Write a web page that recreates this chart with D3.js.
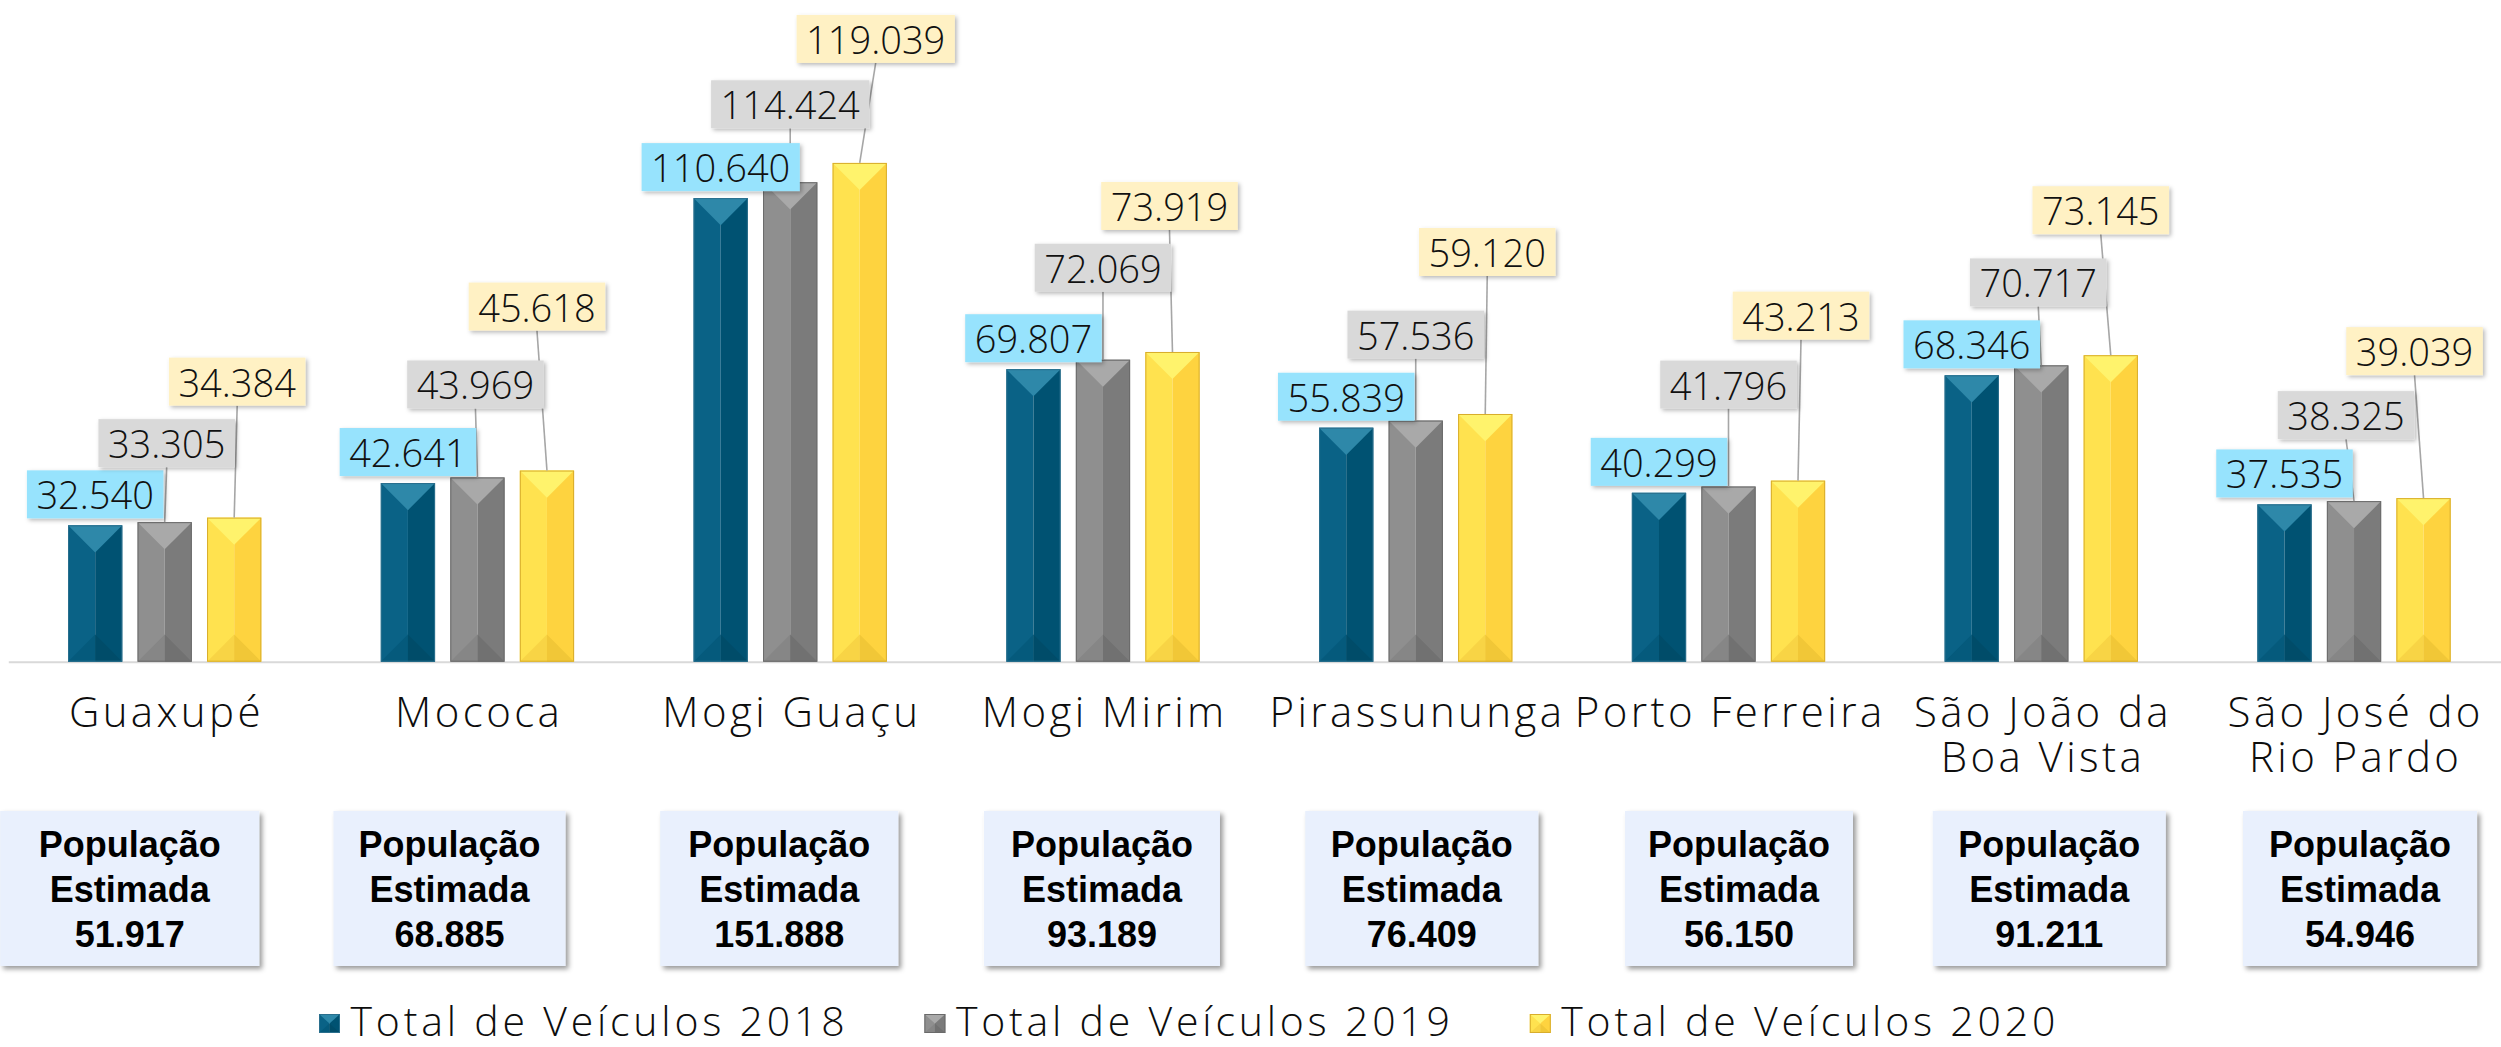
<!DOCTYPE html>
<html>
<head>
<meta charset="utf-8">
<script src="https://cdn.jsdelivr.net/npm/d3@7"></script>
<style>
  html, body { margin: 0; padding: 0; background: #ffffff; }
  svg { display: block; }
</style>
</head>
<body>
<svg id="chart" width="2501" height="1047"></svg>
<script>
// ---- data ----
const municipios = ["Guaxupé", "Mococa", "Mogi Guaçu", "Mogi Mirim", "Pirassununga", "Porto Ferreira", "São João da Boa Vista", "São José do Rio Pardo"];
const rotulos = [["Guaxupé"], ["Mococa"], ["Mogi Guaçu"], ["Mogi Mirim"], ["Pirassununga"], ["Porto Ferreira"], ["São João da", "Boa Vista"], ["São José do", "Rio Pardo"]];
const series = ["Total de Veículos 2018", "Total de Veículos 2019", "Total de Veículos 2020"];
const veiculos2018 = [32540, 42641, 110640, 69807, 55839, 40299, 68346, 37535];
const veiculos2019 = [33305, 43969, 114424, 72069, 57536, 41796, 70717, 38325];
const veiculos2020 = [34384, 45618, 119039, 73919, 59120, 43213, 73145, 39039];
const populacao = [51917, 68885, 151888, 93189, 76409, 56150, 91211, 54946];

// ---- layout (label placement) ----
// space between a value label and the top of its bar, per municipality and series
const folgaRotulo = [[7, 55, 112], [7, 69, 140], [7, 54, 100], [7, 68, 122], [7, 62, 138], [7, 78, 141], [7, 59, 121], [7, 62, 123]];
// horizontal shift of each value label from its bar centre
const desvioRotulo = [[0, 2, 3], [0, -2, -10], [0, 0, 16], [0, 0, -3], [0, 0, 2], [0, 0, 3], [0, -3, -10], [0, -8, -9]];
// population boxes: shift from the category centre and width
const desvioPop = [-35, -28, -11, -1, 6, 10.5, 8, 6];
const larguraPop = [259, 232, 238, 236, 233, 228, 233, 234];

const valores = [veiculos2018, veiculos2019, veiculos2020];

const ptBR = d3.formatLocale({ decimal: ",", thousands: ".", grouping: [3], currency: ["R$", ""] });
const fmt = ptBR.format(",d");

const FONTE = "'Open Sans', 'DejaVu Sans', sans-serif";
const FONTE_POP = "'Liberation Sans', Arial, sans-serif";

const paletas = [
  { left: "#0a6286", right: "#005272", top: "#2e88a9", botL: "#055a7c", botR: "#004c69", edge: "#2a6f8d", box: "#97e3fd" },
  { left: "#8f8f8f", right: "#7b7b7b", top: "#a9a9a9", botL: "#868686", botR: "#717171", edge: "#6a6a6a", box: "#d9d9d9" },
  { left: "#ffe24f", right: "#fed33f", top: "#fff36c", botL: "#f8d445", botR: "#f1c737", edge: "#d8ad2c", box: "#fff1c4" }
];

const svg = d3.select("#chart");

const defs = svg.append("defs");
const sh = defs.append("filter").attr("id", "sombraRotulo")
  .attr("x", "-10%").attr("y", "-20%").attr("width", "130%").attr("height", "160%");
sh.append("feDropShadow").attr("dx", 2).attr("dy", 2).attr("stdDeviation", 2)
  .attr("flood-color", "#000").attr("flood-opacity", 0.28);
const sp = defs.append("filter").attr("id", "sombraPop")
  .attr("x", "-10%").attr("y", "-10%").attr("width", "130%").attr("height", "130%");
sp.append("feDropShadow").attr("dx", 3).attr("dy", 3).attr("stdDeviation", 2.5)
  .attr("flood-color", "#000").attr("flood-opacity", 0.4);

// ---- scales ----
const x0 = d3.scaleBand().domain(municipios).range([8.3, 2510.4]).paddingInner(0).paddingOuter(0);
const larguraGrupo = 193.3;
const x1 = d3.scaleBand().domain(series).range([0, larguraGrupo]).paddingInner(0.219).paddingOuter(0);
const y = d3.scaleLinear().domain([0, 140000]).range([661.7, 75.1]);

const centroCat = m => x0(m) + x0.bandwidth() / 2;
const xBarra = (m, s) => x0(m) + (x0.bandwidth() - larguraGrupo) / 2 + x1(s);

// ---- baseline axis ----
const eixo = svg.append("g").attr("transform", `translate(0,${y(0)})`)
  .call(d3.axisBottom(x0).tickSize(0).tickFormat(""));
eixo.select(".domain").attr("stroke", "#d9d9d9").attr("stroke-width", 2);

// ---- bevelled column ----
function coluna(g, x, yy, w, h, p) {
  const cx = x + w / 2, d = Math.min(w / 2, h / 2);
  g.append("rect").attr("x", x).attr("y", yy).attr("width", w / 2).attr("height", h).attr("fill", p.left);
  g.append("rect").attr("x", cx).attr("y", yy).attr("width", w / 2).attr("height", h).attr("fill", p.right);
  g.append("path").attr("d", `M${x},${yy}L${x + w},${yy}L${cx},${yy + d}Z`).attr("fill", p.top);
  g.append("path").attr("d", `M${x},${yy + h}L${cx},${yy + h - d}L${cx},${yy + h}Z`).attr("fill", p.botL);
  g.append("path").attr("d", `M${cx},${yy + h}L${cx},${yy + h - d}L${x + w},${yy + h}Z`).attr("fill", p.botR);
  g.append("rect").attr("x", x + 0.5).attr("y", yy + 0.5).attr("width", w - 1).attr("height", h - 1)
    .attr("fill", "none").attr("stroke", p.edge).attr("stroke-width", 1);
}

// ---- bars ----
const gBarras = svg.append("g");
municipios.forEach((m, i) => {
  series.forEach((s, k) => {
    const v = valores[k][i];
    const g = gBarras.append("g");
    coluna(g, xBarra(m, s), y(v), x1.bandwidth(), y(0) - y(v), paletas[k]);
  });
});

// ---- value labels ----
const gLinhas = svg.append("g");
const gRotulos = svg.append("g");
const ALT_CAIXA = 48;
municipios.forEach((m, i) => {
  series.forEach((s, k) => {
    const v = valores[k][i];
    const bx = xBarra(m, s) + x1.bandwidth() / 2;
    const topo = y(v);
    const cx = bx + desvioRotulo[i][k];
    const fundo = topo - folgaRotulo[i][k];
    const g = gRotulos.append("g");
    const t = g.append("text")
      .attr("x", cx).attr("y", fundo - ALT_CAIXA / 2)
      .attr("text-anchor", "middle").attr("dominant-baseline", "central")
      .attr("font-family", FONTE).attr("font-weight", 300).attr("font-size", 38)
      .attr("fill", "#111").text(fmt(v));
    const w = t.node().getComputedTextLength() + 19;
    g.insert("rect", "text")
      .attr("x", cx - w / 2).attr("y", fundo - ALT_CAIXA).attr("width", w).attr("height", ALT_CAIXA)
      .attr("fill", paletas[k].box).attr("filter", "url(#sombraRotulo)");
    if (folgaRotulo[i][k] > 20) {
      gLinhas.append("line")
        .attr("x1", cx).attr("y1", fundo).attr("x2", bx).attr("y2", topo)
        .attr("stroke", "#a6a6a6").attr("stroke-width", 1.6);
    }
  });
});

// ---- category labels (one text element per line) ----
const gCat = svg.append("g");
municipios.forEach((m, i) => {
  rotulos[i].forEach((linha, j) => {
    gCat.append("text")
      .attr("x", centroCat(m) + 1.7).attr("y", 727 + j * 45)
      .attr("text-anchor", "middle")
      .attr("font-family", FONTE).attr("font-weight", 300).attr("font-size", 42)
      .attr("letter-spacing", 3.4).attr("fill", "#0d0d0d")
      .text(linha);
  });
});

// ---- population boxes ----
const gPop = svg.append("g");
municipios.forEach((m, i) => {
  const cx = centroCat(m) + desvioPop[i];
  const w = larguraPop[i];
  const g = gPop.append("g");
  g.append("rect").attr("x", cx - w / 2).attr("y", 811).attr("width", w).attr("height", 155)
    .attr("fill", "#e9f0fd").attr("filter", "url(#sombraPop)");
  ["População", "Estimada", fmt(populacao[i])].forEach((linha, j) => {
    g.append("text").attr("text-anchor", "middle")
      .attr("x", cx).attr("y", 856.7 + j * 45)
      .attr("font-family", FONTE_POP).attr("font-weight", 700).attr("font-size", 36).attr("fill", "#000")
      .text(linha);
  });
});

// ---- legend ----
const gLeg = svg.append("g");
let lx = 319;
series.forEach((s, k) => {
  const g = gLeg.append("g");
  coluna(g, lx, 1014, 21, 19, paletas[k]);
  const t = g.append("text").attr("x", lx + 31.5).attr("y", 1036)
    .attr("font-family", FONTE).attr("font-weight", 300).attr("font-size", 41)
    .attr("letter-spacing", 3.8).attr("fill", "#0d0d0d").text(s);
  lx = lx + 31.5 + t.node().getComputedTextLength() + 76;
});
</script>
</body>
</html>
